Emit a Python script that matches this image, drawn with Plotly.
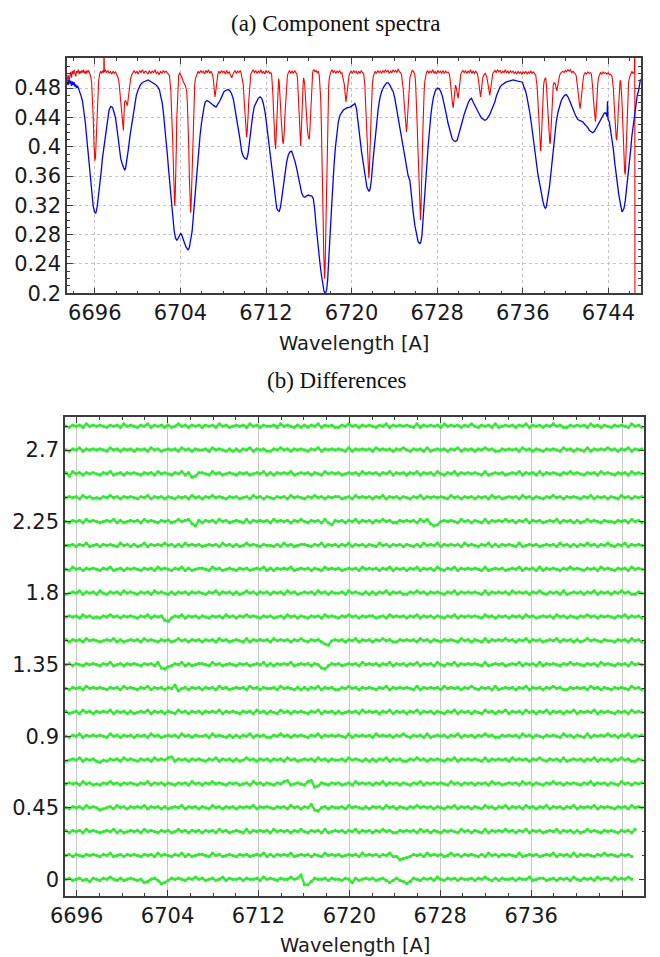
import plotly.graph_objects as go

# ---------------------------------------------------------------------------
# Panel (a): component spectra, (wavelength [A], flux)
# ---------------------------------------------------------------------------
RED_POINTS = [
    (6693.42, 0.491), (6693.50, 0.498), (6693.58, 0.489), (6693.66, 0.497), (6693.74, 0.502), (6693.82, 0.494),
    (6693.90, 0.503), (6693.98, 0.499), (6694.06, 0.505), (6694.14, 0.500), (6694.22, 0.496), (6694.30, 0.503),
    (6694.38, 0.501), (6694.46, 0.505), (6694.54, 0.499), (6694.62, 0.503), (6694.70, 0.500), (6694.78, 0.504),
    (6694.86, 0.501), (6694.94, 0.505), (6695.02, 0.500), (6695.10, 0.503), (6695.18, 0.499), (6695.26, 0.504),
    (6695.34, 0.501), (6695.42, 0.504), (6695.50, 0.500),
    (6695.60, 0.497), (6695.70, 0.488), (6695.78, 0.470), (6695.85, 0.440), (6695.92, 0.405), (6696.00, 0.381),
    (6696.06, 0.385), (6696.12, 0.405), (6696.20, 0.440), (6696.28, 0.470), (6696.36, 0.490), (6696.45, 0.499),
    (6696.55, 0.503), (6696.65, 0.500), (6696.75, 0.504), (6696.84, 0.501), (6696.86, 0.560), (6696.89, 0.502),
    (6696.98, 0.505), (6697.10, 0.501), (6697.22, 0.504), (6697.34, 0.500), (6697.46, 0.503), (6697.58, 0.499),
    (6697.70, 0.503), (6697.82, 0.500), (6697.94, 0.502), (6698.06, 0.498),
    (6698.18, 0.494), (6698.26, 0.488), (6698.34, 0.474), (6698.42, 0.461), (6698.50, 0.448), (6698.57, 0.438),
    (6698.67, 0.422), (6698.72, 0.440), (6698.78, 0.461), (6698.88, 0.463), (6698.96, 0.459), (6699.04, 0.456),
    (6699.12, 0.465), (6699.19, 0.475), (6699.27, 0.486), (6699.35, 0.493), (6699.44, 0.498),
    (6699.55, 0.501), (6699.68, 0.504), (6699.80, 0.500), (6699.93, 0.503), (6700.06, 0.499), (6700.19, 0.504),
    (6700.32, 0.501), (6700.45, 0.505), (6700.58, 0.500), (6700.71, 0.503), (6700.84, 0.502), (6700.97, 0.499),
    (6701.10, 0.504), (6701.23, 0.500), (6701.36, 0.503), (6701.49, 0.501), (6701.62, 0.505), (6701.75, 0.500),
    (6701.88, 0.502), (6702.01, 0.498), (6702.14, 0.503), (6702.27, 0.500), (6702.40, 0.504), (6702.53, 0.501),
    (6702.66, 0.503), (6702.79, 0.500), (6702.90, 0.499),
    (6702.98, 0.497), (6703.10, 0.477), (6703.16, 0.460), (6703.22, 0.438), (6703.29, 0.405), (6703.35, 0.370),
    (6703.41, 0.340), (6703.47, 0.319), (6703.52, 0.335), (6703.57, 0.356), (6703.62, 0.400), (6703.66, 0.438),
    (6703.71, 0.465), (6703.75, 0.484), (6703.84, 0.497), (6703.92, 0.501), (6704.00, 0.499), (6704.08, 0.497),
    (6704.16, 0.494), (6704.24, 0.490), (6704.31, 0.486), (6704.40, 0.485), (6704.47, 0.483), (6704.54, 0.480),
    (6704.59, 0.476),
    (6704.65, 0.460), (6704.71, 0.438), (6704.78, 0.400), (6704.84, 0.356), (6704.90, 0.325), (6704.96, 0.310),
    (6705.01, 0.325), (6705.05, 0.347), (6705.10, 0.385), (6705.15, 0.416), (6705.21, 0.448), (6705.27, 0.470),
    (6705.34, 0.485), (6705.40, 0.493), (6705.48, 0.497), (6705.55, 0.500),
    (6705.66, 0.503), (6705.78, 0.500), (6705.90, 0.504), (6706.02, 0.501), (6706.14, 0.503), (6706.26, 0.499),
    (6706.38, 0.504), (6706.50, 0.501), (6706.62, 0.505), (6706.74, 0.500), (6706.86, 0.503), (6706.96, 0.500),
    (6707.04, 0.496), (6707.10, 0.488), (6707.16, 0.478), (6707.23, 0.468), (6707.29, 0.474), (6707.35, 0.483),
    (6707.42, 0.493), (6707.50, 0.499),
    (6707.60, 0.503), (6707.72, 0.500), (6707.84, 0.504), (6707.96, 0.501), (6708.08, 0.503), (6708.20, 0.499),
    (6708.32, 0.504), (6708.44, 0.500), (6708.56, 0.502), (6708.66, 0.499), (6708.74, 0.496), (6708.80, 0.494),
    (6708.88, 0.498), (6708.98, 0.502), (6709.10, 0.504), (6709.22, 0.500), (6709.34, 0.503), (6709.46, 0.501),
    (6709.58, 0.504), (6709.68, 0.500),
    (6709.78, 0.494), (6709.88, 0.484), (6709.95, 0.465), (6710.00, 0.452), (6710.07, 0.437), (6710.13, 0.425),
    (6710.19, 0.413), (6710.24, 0.420), (6710.29, 0.429), (6710.34, 0.446), (6710.38, 0.461), (6710.44, 0.478),
    (6710.50, 0.493), (6710.58, 0.499),
    (6710.68, 0.502), (6710.80, 0.505), (6710.92, 0.501), (6711.04, 0.504), (6711.16, 0.500), (6711.28, 0.503),
    (6711.40, 0.501), (6711.52, 0.505), (6711.64, 0.500), (6711.76, 0.503), (6711.88, 0.499), (6712.00, 0.504),
    (6712.12, 0.501), (6712.24, 0.503), (6712.36, 0.500), (6712.46, 0.501),
    (6712.53, 0.498), (6712.60, 0.486), (6712.65, 0.470), (6712.70, 0.450), (6712.75, 0.429), (6712.80, 0.415),
    (6712.84, 0.406), (6712.90, 0.397), (6712.95, 0.415), (6713.00, 0.434), (6713.05, 0.455), (6713.09, 0.475),
    (6713.14, 0.485), (6713.18, 0.493), (6713.23, 0.489), (6713.28, 0.479), (6713.33, 0.465), (6713.37, 0.452),
    (6713.44, 0.432), (6713.50, 0.416), (6713.56, 0.408), (6713.62, 0.404), (6713.67, 0.410), (6713.71, 0.420),
    (6713.76, 0.440), (6713.81, 0.456), (6713.87, 0.475), (6713.93, 0.490), (6714.00, 0.497), (6714.09, 0.501),
    (6714.20, 0.504), (6714.32, 0.500), (6714.44, 0.503), (6714.56, 0.500), (6714.68, 0.504), (6714.78, 0.501),
    (6714.87, 0.500),
    (6714.94, 0.494), (6714.99, 0.479), (6715.05, 0.460), (6715.12, 0.438), (6715.18, 0.418), (6715.24, 0.401),
    (6715.29, 0.418), (6715.33, 0.438), (6715.38, 0.460), (6715.43, 0.479), (6715.48, 0.489), (6715.52, 0.494),
    (6715.57, 0.490), (6715.61, 0.486), (6715.67, 0.472), (6715.74, 0.452), (6715.80, 0.437), (6715.86, 0.425),
    (6715.96, 0.413), (6716.05, 0.410), (6716.10, 0.422), (6716.14, 0.438), (6716.19, 0.460), (6716.24, 0.479),
    (6716.30, 0.493), (6716.36, 0.501), (6716.42, 0.504), (6716.49, 0.505), (6716.58, 0.502), (6716.68, 0.504),
    (6716.78, 0.501), (6716.88, 0.503),
    (6716.98, 0.497), (6717.05, 0.484), (6717.11, 0.466), (6717.16, 0.440), (6717.20, 0.416), (6717.25, 0.380),
    (6717.30, 0.338), (6717.35, 0.295), (6717.39, 0.256), (6717.44, 0.232), (6717.48, 0.220), (6717.53, 0.240),
    (6717.58, 0.275), (6717.62, 0.315), (6717.67, 0.356), (6717.72, 0.400), (6717.76, 0.438), (6717.81, 0.465),
    (6717.86, 0.484), (6717.92, 0.494), (6717.98, 0.500),
    (6718.06, 0.502), (6718.16, 0.505), (6718.28, 0.501), (6718.40, 0.504), (6718.52, 0.500), (6718.64, 0.503),
    (6718.76, 0.501), (6718.88, 0.504), (6719.00, 0.500), (6719.10, 0.501),
    (6719.17, 0.497), (6719.25, 0.490), (6719.33, 0.484), (6719.41, 0.470), (6719.48, 0.461), (6719.54, 0.469),
    (6719.60, 0.479), (6719.68, 0.490), (6719.76, 0.497), (6719.85, 0.501),
    (6719.95, 0.503), (6720.07, 0.500), (6720.19, 0.504), (6720.31, 0.501), (6720.43, 0.503), (6720.55, 0.499),
    (6720.67, 0.503), (6720.79, 0.500), (6720.91, 0.504), (6721.03, 0.501), (6721.12, 0.500),
    (6721.18, 0.493), (6721.24, 0.484), (6721.30, 0.462), (6721.36, 0.438), (6721.41, 0.415), (6721.46, 0.393),
    (6721.50, 0.378), (6721.55, 0.366), (6721.61, 0.357), (6721.66, 0.368), (6721.71, 0.384), (6721.76, 0.405),
    (6721.80, 0.429), (6721.85, 0.452), (6721.89, 0.470), (6721.95, 0.486), (6722.02, 0.495), (6722.10, 0.500),
    (6722.20, 0.503), (6722.32, 0.500), (6722.44, 0.504), (6722.56, 0.501), (6722.68, 0.503), (6722.80, 0.500),
    (6722.92, 0.504), (6723.04, 0.501), (6723.16, 0.505), (6723.28, 0.502), (6723.40, 0.504), (6723.52, 0.500),
    (6723.64, 0.503), (6723.76, 0.501), (6723.88, 0.505), (6724.00, 0.502), (6724.12, 0.504), (6724.24, 0.501),
    (6724.36, 0.506), (6724.48, 0.502), (6724.58, 0.501),
    (6724.67, 0.498), (6724.75, 0.490), (6724.82, 0.479), (6724.90, 0.463), (6724.98, 0.447), (6725.05, 0.432),
    (6725.13, 0.420), (6725.20, 0.433), (6725.26, 0.447), (6725.32, 0.466), (6725.38, 0.484), (6725.45, 0.494),
    (6725.51, 0.497), (6725.58, 0.502), (6725.66, 0.504), (6725.76, 0.503), (6725.85, 0.500),
    (6725.91, 0.499), (6725.98, 0.488), (6726.07, 0.461), (6726.13, 0.430), (6726.19, 0.402), (6726.25, 0.375),
    (6726.32, 0.347), (6726.38, 0.320), (6726.44, 0.300), (6726.49, 0.318), (6726.54, 0.338), (6726.58, 0.370),
    (6726.63, 0.402), (6726.68, 0.430), (6726.72, 0.456), (6726.78, 0.475), (6726.85, 0.490), (6726.92, 0.497),
    (6727.00, 0.501),
    (6727.10, 0.504), (6727.22, 0.500), (6727.34, 0.503), (6727.46, 0.501), (6727.58, 0.505), (6727.70, 0.500),
    (6727.82, 0.503), (6727.94, 0.499), (6728.06, 0.504), (6728.18, 0.501), (6728.30, 0.503), (6728.42, 0.500),
    (6728.54, 0.504), (6728.66, 0.500), (6728.78, 0.503), (6728.90, 0.501), (6729.02, 0.502),
    (6729.12, 0.500), (6729.20, 0.493), (6729.28, 0.484), (6729.34, 0.474), (6729.40, 0.463), (6729.45, 0.457),
    (6729.50, 0.453), (6729.55, 0.461), (6729.59, 0.470), (6729.65, 0.478), (6729.71, 0.484), (6729.78, 0.481),
    (6729.84, 0.477), (6729.90, 0.470), (6729.96, 0.466), (6730.02, 0.474), (6730.09, 0.484), (6730.15, 0.493),
    (6730.21, 0.499), (6730.30, 0.502),
    (6730.40, 0.504), (6730.52, 0.501), (6730.64, 0.504), (6730.76, 0.500), (6730.88, 0.503), (6731.00, 0.501),
    (6731.12, 0.505), (6731.24, 0.500), (6731.36, 0.503), (6731.48, 0.500), (6731.60, 0.503), (6731.70, 0.501),
    (6731.77, 0.499), (6731.85, 0.492), (6731.93, 0.484), (6731.99, 0.474), (6732.05, 0.468), (6732.11, 0.474),
    (6732.18, 0.486), (6732.25, 0.493), (6732.33, 0.497), (6732.41, 0.499), (6732.49, 0.500), (6732.56, 0.498),
    (6732.64, 0.495), (6732.72, 0.488), (6732.80, 0.479), (6732.86, 0.473), (6732.92, 0.470), (6732.98, 0.477),
    (6733.05, 0.486), (6733.12, 0.494), (6733.20, 0.500), (6733.30, 0.502),
    (6733.40, 0.504), (6733.52, 0.501), (6733.64, 0.505), (6733.76, 0.502), (6733.88, 0.504), (6734.00, 0.500),
    (6734.12, 0.503), (6734.24, 0.501), (6734.36, 0.505), (6734.48, 0.501), (6734.60, 0.503), (6734.72, 0.500),
    (6734.84, 0.504), (6734.96, 0.501), (6735.08, 0.503), (6735.20, 0.500), (6735.32, 0.502), (6735.44, 0.499),
    (6735.56, 0.503), (6735.68, 0.500), (6735.80, 0.502), (6735.92, 0.499), (6736.04, 0.502), (6736.16, 0.500),
    (6736.28, 0.503), (6736.40, 0.499), (6736.52, 0.502), (6736.64, 0.500), (6736.76, 0.503), (6736.88, 0.500),
    (6737.00, 0.502), (6737.12, 0.499),
    (6737.21, 0.498), (6737.27, 0.490), (6737.33, 0.484), (6737.40, 0.467), (6737.46, 0.452), (6737.52, 0.430),
    (6737.58, 0.411), (6737.63, 0.400), (6737.67, 0.394), (6737.72, 0.405), (6737.77, 0.425), (6737.83, 0.448),
    (6737.89, 0.470), (6737.95, 0.484), (6738.02, 0.491), (6738.08, 0.494), (6738.14, 0.494), (6738.20, 0.486),
    (6738.26, 0.470), (6738.31, 0.455), (6738.36, 0.438), (6738.42, 0.424), (6738.48, 0.411), (6738.52, 0.406),
    (6738.57, 0.404), (6738.62, 0.418), (6738.67, 0.434), (6738.73, 0.455), (6738.79, 0.475), (6738.85, 0.484),
    (6738.91, 0.487), (6738.97, 0.487), (6739.04, 0.486), (6739.09, 0.482), (6739.13, 0.479), (6739.19, 0.476),
    (6739.24, 0.481), (6739.29, 0.486), (6739.36, 0.493), (6739.44, 0.497), (6739.53, 0.500), (6739.63, 0.501),
    (6739.74, 0.503), (6739.86, 0.501), (6739.98, 0.504), (6740.10, 0.502), (6740.22, 0.505), (6740.34, 0.503),
    (6740.46, 0.505), (6740.58, 0.501), (6740.70, 0.503), (6740.82, 0.500), (6740.92, 0.499),
    (6740.99, 0.497), (6741.07, 0.489), (6741.15, 0.479), (6741.21, 0.470), (6741.27, 0.461), (6741.32, 0.455),
    (6741.36, 0.452), (6741.41, 0.458), (6741.46, 0.466), (6741.52, 0.476), (6741.58, 0.486), (6741.66, 0.494),
    (6741.74, 0.499),
    (6741.84, 0.501), (6741.96, 0.499), (6742.08, 0.502), (6742.20, 0.500), (6742.32, 0.501),
    (6742.42, 0.499), (6742.48, 0.492), (6742.54, 0.479), (6742.60, 0.465), (6742.67, 0.452), (6742.73, 0.441),
    (6742.79, 0.434), (6742.84, 0.443), (6742.88, 0.457), (6742.94, 0.474), (6743.01, 0.486), (6743.08, 0.494),
    (6743.16, 0.498),
    (6743.26, 0.501), (6743.38, 0.499), (6743.50, 0.502), (6743.62, 0.500), (6743.74, 0.501), (6743.86, 0.499),
    (6743.98, 0.501), (6744.10, 0.498), (6744.22, 0.499),
    (6744.34, 0.496), (6744.40, 0.489), (6744.47, 0.479), (6744.53, 0.461), (6744.59, 0.443), (6744.64, 0.430),
    (6744.68, 0.420), (6744.73, 0.412), (6744.78, 0.409), (6744.83, 0.418), (6744.87, 0.429), (6744.92, 0.447),
    (6744.96, 0.461), (6745.01, 0.477), (6745.05, 0.486), (6745.10, 0.490), (6745.15, 0.490), (6745.20, 0.482),
    (6745.24, 0.470), (6745.29, 0.455), (6745.33, 0.438), (6745.38, 0.415), (6745.43, 0.393), (6745.48, 0.375),
    (6745.52, 0.366), (6745.58, 0.362), (6745.63, 0.380), (6745.67, 0.402), (6745.72, 0.428), (6745.77, 0.452),
    (6745.83, 0.473), (6745.89, 0.488), (6745.97, 0.494), (6746.05, 0.497), (6746.13, 0.501), (6746.20, 0.503),
    (6746.28, 0.500), (6746.36, 0.501), (6746.43, 0.502), (6746.47, 0.560), (6746.49, 0.000),
]

BLUE_POINTS = [
    (6693.42, 0.489), (6693.50, 0.484), (6693.58, 0.491), (6693.66, 0.486), (6693.74, 0.490), (6693.82, 0.483),
    (6693.90, 0.489), (6693.98, 0.484), (6694.06, 0.488), (6694.14, 0.482), (6694.22, 0.485), (6694.30, 0.480),
    (6694.39, 0.483), (6694.50, 0.477), (6694.60, 0.474), (6694.70, 0.470), (6694.85, 0.462), (6695.01, 0.447),
    (6695.12, 0.432), (6695.22, 0.416), (6695.35, 0.395), (6695.47, 0.370), (6695.60, 0.350), (6695.72, 0.334),
    (6695.84, 0.320), (6695.97, 0.311), (6696.09, 0.309), (6696.22, 0.318), (6696.34, 0.332), (6696.47, 0.347),
    (6696.59, 0.365), (6696.71, 0.384), (6696.84, 0.398), (6696.93, 0.411), (6697.05, 0.427), (6697.18, 0.438),
    (6697.33, 0.450), (6697.49, 0.455), (6697.64, 0.454), (6697.80, 0.447), (6697.95, 0.438), (6698.11, 0.420),
    (6698.26, 0.403), (6698.42, 0.384), (6698.57, 0.376), (6698.70, 0.371), (6698.79, 0.368), (6698.88, 0.371),
    (6699.01, 0.382), (6699.13, 0.396), (6699.29, 0.415), (6699.44, 0.429), (6699.60, 0.446), (6699.75, 0.459),
    (6699.88, 0.470), (6700.06, 0.478), (6700.28, 0.485), (6700.50, 0.488), (6700.74, 0.489), (6700.99, 0.491),
    (6701.21, 0.489), (6701.43, 0.487), (6701.67, 0.485), (6701.86, 0.482), (6702.05, 0.477), (6702.17, 0.468),
    (6702.29, 0.461), (6702.42, 0.445), (6702.54, 0.429), (6702.67, 0.408), (6702.79, 0.388), (6702.91, 0.366),
    (6703.04, 0.343), (6703.16, 0.320), (6703.29, 0.300), (6703.41, 0.286), (6703.53, 0.276), (6703.66, 0.272),
    (6703.78, 0.275), (6703.91, 0.279), (6704.03, 0.282), (6704.16, 0.278), (6704.28, 0.274), (6704.40, 0.268),
    (6704.53, 0.263), (6704.65, 0.260), (6704.74, 0.259), (6704.84, 0.263), (6704.96, 0.272), (6705.09, 0.284),
    (6705.21, 0.305), (6705.33, 0.328), (6705.46, 0.352), (6705.58, 0.374), (6705.71, 0.397), (6705.84, 0.416),
    (6705.97, 0.432), (6706.09, 0.445), (6706.22, 0.455), (6706.33, 0.461), (6706.51, 0.463), (6706.70, 0.461),
    (6706.92, 0.459), (6707.14, 0.456), (6707.33, 0.454), (6707.52, 0.458), (6707.70, 0.463), (6707.89, 0.469),
    (6708.07, 0.475), (6708.26, 0.477), (6708.48, 0.478), (6708.64, 0.476), (6708.79, 0.472), (6708.95, 0.465),
    (6709.10, 0.452), (6709.26, 0.443), (6709.41, 0.428), (6709.57, 0.410), (6709.73, 0.393), (6709.88, 0.387),
    (6710.04, 0.384), (6710.19, 0.383), (6710.32, 0.390), (6710.44, 0.405), (6710.60, 0.425), (6710.76, 0.443),
    (6710.91, 0.455), (6711.13, 0.463), (6711.28, 0.466), (6711.44, 0.468), (6711.60, 0.466), (6711.75, 0.459),
    (6711.91, 0.447), (6712.06, 0.430), (6712.22, 0.410), (6712.37, 0.393), (6712.53, 0.374), (6712.69, 0.353),
    (6712.84, 0.330), (6713.00, 0.316), (6713.12, 0.313), (6713.25, 0.312), (6713.37, 0.319), (6713.50, 0.333),
    (6713.62, 0.349), (6713.78, 0.365), (6713.93, 0.379), (6714.09, 0.389), (6714.24, 0.393), (6714.40, 0.394),
    (6714.55, 0.388), (6714.71, 0.380), (6714.87, 0.370), (6715.02, 0.359), (6715.18, 0.347), (6715.33, 0.337),
    (6715.49, 0.332), (6715.64, 0.331), (6715.80, 0.333), (6715.96, 0.334), (6716.11, 0.333), (6716.27, 0.333),
    (6716.42, 0.329), (6716.55, 0.315), (6716.67, 0.294), (6716.80, 0.272), (6716.92, 0.255), (6717.05, 0.240),
    (6717.17, 0.226), (6717.30, 0.211), (6717.42, 0.203), (6717.55, 0.1995), (6717.67, 0.205), (6717.76, 0.218),
    (6717.86, 0.240), (6717.95, 0.262), (6718.04, 0.293), (6718.14, 0.320), (6718.23, 0.347), (6718.36, 0.375),
    (6718.48, 0.398), (6718.60, 0.418), (6718.76, 0.434), (6718.92, 0.443), (6719.07, 0.447), (6719.23, 0.450),
    (6719.54, 0.453), (6719.85, 0.454), (6720.16, 0.457), (6720.31, 0.459), (6720.46, 0.452), (6720.59, 0.435),
    (6720.68, 0.420), (6720.81, 0.405), (6720.93, 0.393), (6721.06, 0.381), (6721.18, 0.370), (6721.30, 0.357),
    (6721.43, 0.345), (6721.55, 0.341), (6721.64, 0.339), (6721.74, 0.343), (6721.86, 0.356), (6722.02, 0.384),
    (6722.17, 0.408), (6722.33, 0.432), (6722.49, 0.452), (6722.64, 0.466), (6722.80, 0.475), (6722.98, 0.481),
    (6723.26, 0.487), (6723.42, 0.487), (6723.58, 0.484), (6723.73, 0.479), (6723.89, 0.475), (6724.04, 0.466),
    (6724.20, 0.452), (6724.36, 0.438), (6724.51, 0.425), (6724.67, 0.411), (6724.82, 0.397), (6724.98, 0.384),
    (6725.13, 0.370), (6725.29, 0.360), (6725.45, 0.354), (6725.60, 0.329), (6725.76, 0.310), (6725.91, 0.293),
    (6726.07, 0.279), (6726.22, 0.270), (6726.38, 0.268), (6726.47, 0.270), (6726.57, 0.278), (6726.66, 0.295),
    (6726.79, 0.320), (6726.91, 0.347), (6727.03, 0.374), (6727.16, 0.402), (6727.28, 0.424), (6727.41, 0.443),
    (6727.53, 0.457), (6727.66, 0.468), (6727.84, 0.477), (6728.03, 0.480), (6728.19, 0.479), (6728.34, 0.475),
    (6728.50, 0.468), (6728.62, 0.461), (6728.75, 0.452), (6728.87, 0.443), (6729.00, 0.433), (6729.12, 0.425),
    (6729.25, 0.418), (6729.40, 0.411), (6729.56, 0.408), (6729.71, 0.407), (6729.87, 0.409), (6730.02, 0.416),
    (6730.18, 0.424), (6730.34, 0.434), (6730.52, 0.444), (6730.71, 0.453), (6730.90, 0.460), (6731.05, 0.464),
    (6731.21, 0.466), (6731.36, 0.461), (6731.52, 0.456), (6731.68, 0.452), (6731.83, 0.447), (6731.99, 0.443),
    (6732.14, 0.439), (6732.30, 0.437), (6732.45, 0.436), (6732.61, 0.437), (6732.77, 0.440), (6732.92, 0.444),
    (6733.08, 0.450), (6733.23, 0.455), (6733.39, 0.461), (6733.55, 0.470), (6733.71, 0.477), (6733.86, 0.481),
    (6734.02, 0.484), (6734.17, 0.486), (6734.42, 0.488), (6734.64, 0.489), (6734.85, 0.490), (6735.10, 0.491),
    (6735.35, 0.490), (6735.57, 0.489), (6735.78, 0.489), (6735.97, 0.488), (6736.09, 0.482), (6736.28, 0.475),
    (6736.40, 0.467), (6736.53, 0.458), (6736.65, 0.447), (6736.78, 0.434), (6736.90, 0.420), (6737.02, 0.404),
    (6737.15, 0.388), (6737.27, 0.374), (6737.40, 0.364), (6737.52, 0.354), (6737.64, 0.343), (6737.77, 0.332),
    (6737.89, 0.325), (6738.02, 0.318), (6738.11, 0.316), (6738.20, 0.318), (6738.29, 0.325), (6738.39, 0.334),
    (6738.51, 0.347), (6738.64, 0.365), (6738.76, 0.384), (6738.88, 0.402), (6739.01, 0.420), (6739.13, 0.434),
    (6739.29, 0.447), (6739.44, 0.456), (6739.60, 0.463), (6739.75, 0.467), (6739.91, 0.470), (6740.06, 0.471),
    (6740.22, 0.468), (6740.37, 0.463), (6740.53, 0.458), (6740.68, 0.452), (6740.84, 0.446), (6740.99, 0.441),
    (6741.15, 0.437), (6741.30, 0.436), (6741.46, 0.435), (6741.61, 0.434), (6741.77, 0.431), (6741.92, 0.429),
    (6742.08, 0.426), (6742.23, 0.422), (6742.39, 0.420), (6742.54, 0.419), (6742.70, 0.421), (6742.85, 0.425),
    (6743.01, 0.429), (6743.16, 0.434), (6743.32, 0.438), (6743.47, 0.443), (6743.63, 0.446), (6743.75, 0.446),
    (6743.88, 0.441), (6743.92, 0.462), (6743.97, 0.437), (6744.09, 0.434), (6744.22, 0.422), (6744.34, 0.411),
    (6744.47, 0.396), (6744.59, 0.379), (6744.71, 0.362), (6744.84, 0.350), (6744.96, 0.336), (6745.09, 0.325),
    (6745.18, 0.318), (6745.27, 0.311), (6745.36, 0.313), (6745.46, 0.316), (6745.58, 0.326), (6745.71, 0.342),
    (6745.83, 0.360), (6745.95, 0.375), (6746.08, 0.395), (6746.20, 0.415), (6746.33, 0.429), (6746.45, 0.447),
    (6746.57, 0.461), (6746.70, 0.470), (6746.82, 0.476), (6746.91, 0.488), (6747.00, 0.492),
]

# ---------------------------------------------------------------------------
# Panel (b): difference spectra. Each row is sampled on a regular wavelength
# grid; each digit is one sample, 5 = zero, one step = DIFF_UNIT.
# ---------------------------------------------------------------------------
DIFF_START_WL = 6695.05
DIFF_STEP_WL = 0.3
DIFF_UNIT = 0.0068
DIFF_OFFSETS = [0.0, 0.15, 0.30, 0.45, 0.60, 0.75, 0.90, 1.05, 1.20, 1.35,
                1.50, 1.65, 1.80, 1.95, 2.10, 2.25, 2.40, 2.55, 2.70, 2.85]
DIFF_ROWS = [
    "5645645365 4657546456 5452356412 4656546575 6456457465 5646556475 6546557569 0036556465 5465264565 6456424643 "
    "1365465647 5465646556 4657546465 5646557456 6456465647 5465647566 4756575",
    "5646546565 4657456465 6546564756 5465746456 6547564565 4656456574 6465657456 5646547565 6456564756 5646574412 "
    "3465647565 6457564656 5464756465 6547456564 5657465647 4656546575 6546564",
    "6465647565 4565746456 5647565465 6457564656 4656475645 6547465656 4756564657 5465647456 5646574656 4657564465 "
    "6564756465 4656547564 6547465657 5646574656 4565746564 6457565465 65465647",
    "5465647565 3456475646 5657465646 4565746564 6547564656 4656574656 5465647564 6583256465 5647565464 6564756465 "
    "4657565646 5465746564 6547564657 4656475646 5746564657 4656574656 5465647565",
    "5656475645 4657564656 5465746564 6546564756 4657565465 6456475646 5465784565 4782365465 6456475656 4657465646 "
    "5465746565 6547564656 4656475645 6564756465 4657564656 5465746564 6547564656",
    "4565746564 3546564756 5465647565 7846564656 5465746564 6457564656 4656475645 6564756465 5647565464 6465746564 "
    "4657564656 5465746565 6547465656 4756564657 5465647456 5646574656 4657564465",
    "5465746565 6547564656 4656475645 6564756465 5647565464 6465746564 4657564656 5465746565 6547465656 4756564657 "
    "5465647456 5646574656 4657564465 6564756465 4656547564 6547465657 5646574656",
    "6456475646 5657465646 4565746564 6547564656 4656574656 5465647564 6547564656 5465746564 6456564756 5646574656 "
    "4657465646 5465746564 6547564657 4656475646 5746564657 4656574656 5465647565",
    "5465647565 6546564756 5465746564 6583564656 4656475645 6564756465 5647565464 6465746564 4657564656 5465746565 "
    "6547465656 4756564657 5465647456 5646574656 4657564465 6564756465 4656547564",
    "5646546565 4657456465 6546564721 3465746456 6547564565 4656456574 6465657456 5646521465 6456564756 5646574656 "
    "4657465647 5465746565 6547456564 5657465647 4656546575 6546564756 5465647565",
    "6465647565 4565746456 5647565465 6457564656 4656475645 6547465656 4756564657 5465642156 5646574656 4657564465 "
    "6564756465 4656547564 6547465657 5646574656 4565746564 6457565465 5465647564",
    "5656475645 4657564656 5465746562 1465746564 6546564756 4657565465 6456475646 5465647565 4657564656 6456475656 "
    "4657465646 5465746565 6547564656 4656475645 6564756465 4657564656 5465746564",
    "4565746564 7546564756 5465647565 4646564656 5465746564 6457564656 4656475645 6564756465 5647565464 6465746564 "
    "4657564656 5465746565 6547465656 4756564657 5465647456 5646574656 4657564465",
    "5475646565 4657456465 6546564756 5465746456 6547564565 4656456574 6465657456 5646547565 6456564756 5646574656 "
    "4657465647 5465746565 6547456564 5657465647 4656546575 6546564756 5465647565",
    "5564657456 4656547564 6457465657 5646475656 4565647564 6457565465 5464756456 6546574656 4657465646 5475646564 "
    "6546475657 4656564756 5465746465 6547456564 5656475646 4657564657 5465746565",
    "5465647565 4565746456 5647565465 6457567316 4656475645 6547465656 4756564657 5465647426 5646574656 4657564465 "
    "6564757312 5656547564 6547465657 5646574656 4565746564 6457565465 5465647564",
    "5656475645 4657564656 5465746564 6546564756 4657565465 6456475646 5465647565 4657564656 6456475656 4657465646 "
    "5465746565 6547564656 4656475645 6564756465 4657564656 5465746564 6547564656",
    "6375646565 4657456465 6546564756 5465746236 6547564565 4656456574 6465657456 5646547565 6456564756 5646574656 "
    "4657465647 5465746565 6547456564 5657465647 4656546575 6546564756 5465647565",
    "5465746565 6547564656 4656475645 6564756465 5647565464 6465746564 4657564656 5465746565 6547465656 4756564657 "
    "5465647456 5646574656 4657564465 6564756465 4656547564 6547465657 5646574656",
    "5465647565 6546564756 5465746564 6457564656 4656475645 6564756465 5647565464 6465746564 4657564656 5465746565 "
    "6547465656 4756564657 5465647456 5646574656 4657564465 6564756465 4656547564",
]

TOP_TICKS_X = [6696, 6704, 6712, 6720, 6728, 6736, 6744]
TOP_TICKS_Y = [0.2, 0.24, 0.28, 0.32, 0.36, 0.4, 0.44, 0.48]
TOP_TICK_TEXT_Y = ["0.2", "0.24", "0.28", "0.32", "0.36", "0.4", "0.44", "0.48"]
BOT_TICKS_X = [6696, 6704, 6712, 6720, 6728, 6736, 6744]
BOT_TICK_TEXT_X = ["6696", "6704", "6712", "6720", "6728", "6736", ""]
BOT_TICKS_Y = [0, 0.45, 0.9, 1.35, 1.8, 2.25, 2.7]
BOT_TICK_TEXT_Y = ["0", "0.45", "0.9", "1.35", "1.8", "2.25", "2.7"]

RED = "#ff0000"
BLUE = "#0000ff"
GREEN = "#2bee2b"
AXIS = "#3c3c3c"
TICK_FONT = dict(family="DejaVu Sans", size=21, color="#1a1a1a")

fig = go.Figure()

fig.add_trace(go.Scatter(
    x=[p[0] for p in RED_POINTS], y=[p[1] for p in RED_POINTS],
    mode="lines", line=dict(color=RED, width=1.1), xaxis="x", yaxis="y",
    showlegend=False, hoverinfo="skip"))
fig.add_trace(go.Scatter(
    x=[p[0] for p in BLUE_POINTS], y=[p[1] for p in BLUE_POINTS],
    mode="lines", line=dict(color=BLUE, width=1.3), xaxis="x", yaxis="y",
    showlegend=False, hoverinfo="skip"))

for offset, row in zip(DIFF_OFFSETS, DIFF_ROWS):
    digits = row.replace(" ", "")
    wl = [round(DIFF_START_WL + DIFF_STEP_WL * i, 3) for i in range(len(digits))]
    val = [offset + (int(d) - 5) * DIFF_UNIT for d in digits]
    fig.add_trace(go.Scatter(
        x=wl, y=val, mode="lines+markers",
        line=dict(color=GREEN, width=2.2), marker=dict(color=GREEN, size=3.4),
        xaxis="x2", yaxis="y2", showlegend=False, hoverinfo="skip"))


def frame_axis(**kw):
    base = dict(
        showline=True, linecolor=AXIS, linewidth=1.6, mirror="allticks",
        ticks="inside", ticklen=6, tickwidth=1.2, tickcolor=AXIS,
        tickfont=TICK_FONT, zeroline=False, fixedrange=True, automargin=False,
    )
    base.update(kw)
    return base


W, H = 660, 957
fig.update_layout(
    width=W, height=H, margin=dict(l=0, r=0, t=0, b=0),
    paper_bgcolor="white", plot_bgcolor="white",
    xaxis=frame_axis(
        domain=[67 / W, 641 / W], anchor="y", range=[6693.4, 6747.05],
        tickmode="array", tickvals=TOP_TICKS_X,
        showgrid=True, gridcolor="#c4c4c4", griddash="dot", gridwidth=1,
        minor=dict(dtick=2, tick0=6696, ticks="inside", ticklen=3, tickcolor=AXIS, showgrid=False),
    ),
    yaxis=frame_axis(
        domain=[1 - 293.3 / H, 1 - 58 / H], anchor="x", range=[0.2, 0.521],
        tickmode="array", tickvals=TOP_TICKS_Y, ticktext=TOP_TICK_TEXT_Y,
        showgrid=True, gridcolor="#c4c4c4", griddash="dot", gridwidth=1,
        minor=dict(dtick=0.01, tick0=0.2, ticks="inside", ticklen=3, tickcolor=AXIS, showgrid=False),
    ),
    xaxis2=frame_axis(
        domain=[65 / W, 644.3 / W], anchor="y2", range=[6694.97, 6745.96],
        tickmode="array", tickvals=BOT_TICKS_X, ticktext=BOT_TICK_TEXT_X,
        showgrid=True, gridcolor="#c8c8c8", gridwidth=1.2,
        minor=dict(dtick=2, tick0=6696, ticks="inside", ticklen=3, tickcolor=AXIS, showgrid=False),
    ),
    yaxis2=frame_axis(
        domain=[1 - 895.7 / H, 1 - 417.3 / H], anchor="x2", range=[-0.103, 2.906],
        tickmode="array", tickvals=BOT_TICKS_Y, ticktext=BOT_TICK_TEXT_Y,
        showgrid=False,
        minor=dict(dtick=0.15, tick0=0, ticks="inside", ticklen=3, tickcolor=AXIS, showgrid=False),
    ),
)

TITLE_FONT = dict(family="Liberation Serif", size=23, color="#111111")
LABEL_FONT = dict(family="DejaVu Sans", size=19.5, color="#1a1a1a")
annotations = [
    dict(text="(a) Component spectra", x=336 / W, y=1 - 23 / H, font=TITLE_FONT),
    dict(text="(b) Differences", x=336.5 / W, y=1 - 381 / H, font=TITLE_FONT),
    dict(text="Wavelength [A]", x=354 / W, y=1 - 343 / H, font=LABEL_FONT),
    dict(text="Wavelength [A]", x=354.6 / W, y=1 - 945 / H, font=LABEL_FONT),
]
for a in annotations:
    fig.add_annotation(xref="paper", yref="paper", showarrow=False,
                       xanchor="center", yanchor="middle", **a)

fig.write_html("out.html")
